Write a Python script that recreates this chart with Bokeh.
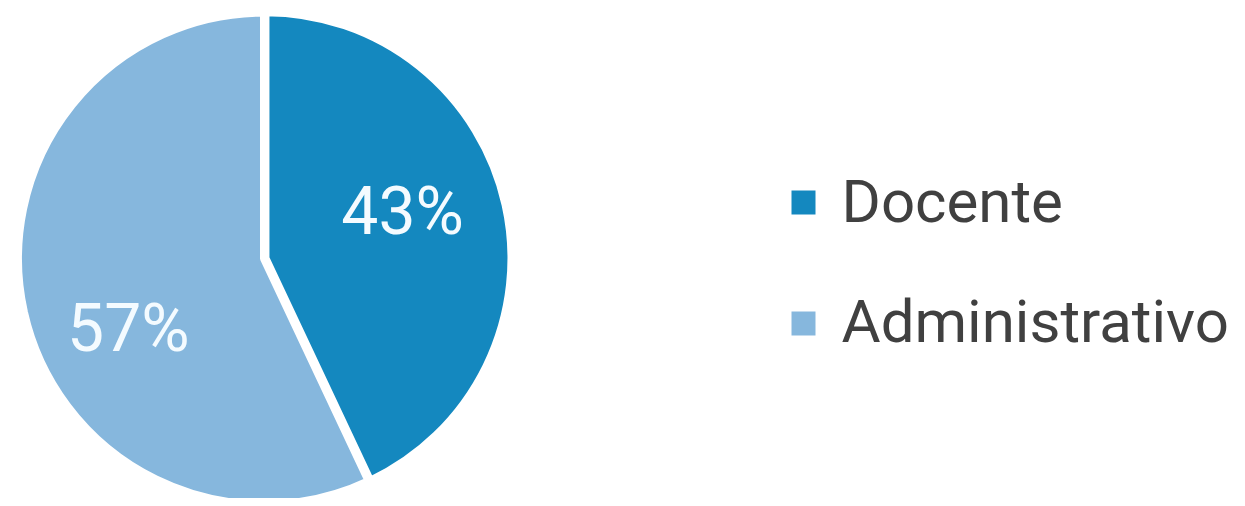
import math
from bokeh.plotting import figure
from bokeh.models import ColumnDataSource
from bokeh.core.properties import value
from bokeh.embed import file_html
from bokeh.resources import INLINE

categories = ["Docente", "Administrativo"]
shares = [43, 57]
labels = ["43%", "57%"]
colors = ["#1488BF", "#86B7DD"]

W, H = 1237, 498
# layout (pixels in plot space, y up)
cx, cy = 263.5, 240
R = 246
explode = [1.5, 0.0]
label_off = [(-6, 15), (9, -38)]

total = sum(shares)
starts, ends, xs, ys, lx, ly = [], [], [], [], [], []
a = math.pi / 2
for i, s in enumerate(shares):
    sweep = 2 * math.pi * s / total
    st, en = a - sweep, a
    mid = (st + en) / 2
    starts.append(st)
    ends.append(en)
    xs.append(cx + explode[i] * math.cos(mid))
    ys.append(cy + explode[i] * math.sin(mid))
    lx.append(cx + 0.6 * 247 * math.cos(mid) + label_off[i][0])
    ly.append(cy + 0.6 * 247 * math.sin(mid) + label_off[i][1])
    a = st

src = ColumnDataSource(dict(x=xs, y=ys, start=starts, end=ends, color=colors,
                            lx=lx, ly=ly, label=labels, cat=categories,
                            gx=[803] * 2,
                            gy=[296 - 121 * i for i in range(2)],
                            tx=[841] * 2,
                            ty=[297 - 120 * i for i in range(2)]))

p = figure(width=W, height=H, x_range=(0, W), y_range=(0, H),
           output_backend="svg", toolbar_location=None,
           min_border=0, outline_line_color=None)
p.styles = {"margin-bottom": "-8px", "margin-right": "-8px"}
p.axis.visible = False
p.grid.visible = False
p.background_fill_color = "white"
p.border_fill_color = "white"

p.wedge(x="x", y="y", radius=R, start_angle="start", end_angle="end",
        fill_color="color", line_color="white", line_width=8, source=src)

p.text(x="lx", y="ly", text="label", source=src, text_color="#F4FBFF",
       text_font=value("Roboto"), text_font_size="66px",
       text_align="center", text_baseline="middle")

p.rect(x="gx", y="gy", width=24, height=24, fill_color="color",
       line_color=None, source=src)
p.text(x="tx", y="ty", text="cat", source=src, text_color="#404040",
       text_font=value("Roboto"), text_font_size="60px",
       text_align="left", text_baseline="alphabetic")

open("out.html", "w").write(file_html(p, INLINE))
